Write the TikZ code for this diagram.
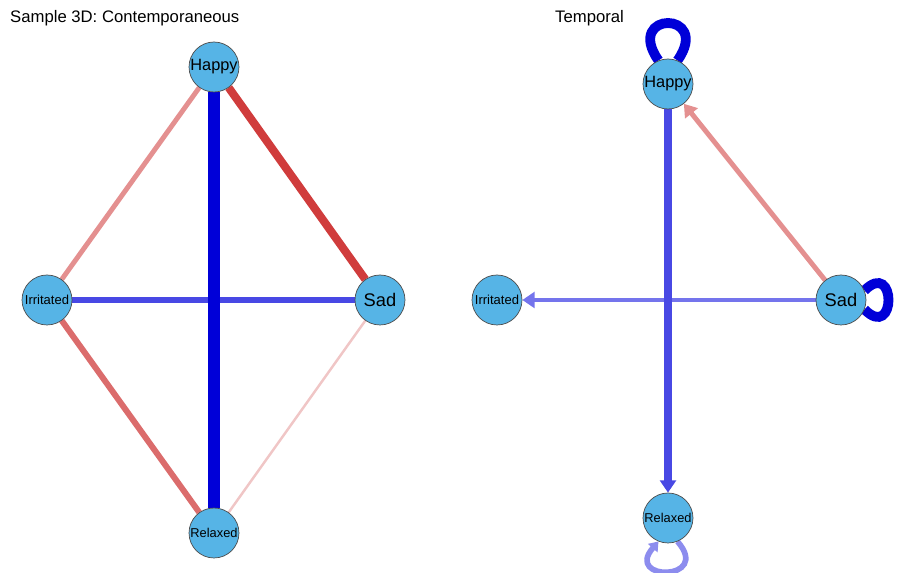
\documentclass[tikz,border=0pt]{standalone}
\usepackage{fontspec}
\setmainfont{Liberation Sans}
\usetikzlibrary{arrows.meta,backgrounds}
\definecolor{nodefill}{HTML}{56B4E6}
\definecolor{strongblue}{HTML}{0000D8}
\definecolor{midblue}{HTML}{4848E4}
\definecolor{lightblue}{HTML}{7474EC}
\definecolor{paleblue}{HTML}{8C8CEE}
\definecolor{strongred}{HTML}{D03C3C}
\definecolor{midred}{HTML}{DB6C6C}
\definecolor{lightred}{HTML}{E49090}
\definecolor{palered}{HTML}{F0C6C6}
\tikzset{
    emo/.style={circle,draw=black!70,fill=nodefill,minimum size=1cm,inner sep=0pt,line width=0.4pt},
    edgeline/.style={line cap=butt},
    arr/.style={-{Triangle[length=7pt,width=9pt]}},
    panel/.style={anchor=west,font=\fontsize{9.5pt}{11pt}\selectfont}
}
\begin{document}
\begin{tikzpicture}[x=0.02cm,y=-0.02cm]
        % Draw background
        \useasboundingbox (0,0) rectangle (897,573);
        % Draw titles
        \node[panel] (titleC) at (4,18) {Sample 3D: Contemporaneous};
        \node[panel] (titleT) at (549,18) {Temporal};
        % Draw contemporaneous nodes
        \node[emo,font=\fontsize{9.3pt}{10pt}\selectfont] (happyC) at (214,67) {Happy};
        \node[emo,font=\fontsize{7.4pt}{8pt}\selectfont] (irritC) at (47,300) {Irritated};
        \node[emo,font=\fontsize{10.4pt}{11pt}\selectfont] (sadC) at (380,300) {Sad};
        \node[emo,font=\fontsize{7.3pt}{8pt}\selectfont] (relaxC) at (214,533) {Relaxed};
        % Draw contemporaneous edges
        \begin{scope}[on background layer]
        \draw[edgeline,palered,line width=1.4pt] (sadC) -- (relaxC);
        \draw[edgeline,lightred,line width=2.8pt] (happyC) -- (irritC);
        \draw[edgeline,midred,line width=3.4pt] (irritC) -- (relaxC);
        \draw[edgeline,strongred,line width=4.6pt] (happyC) -- (sadC);
        \draw[edgeline,midblue,line width=3.4pt] (irritC) -- (sadC);
        \draw[edgeline,strongblue,line width=6.8pt] (happyC) -- (relaxC);
        \end{scope}
        % Draw temporal nodes
        \node[emo,font=\fontsize{9.3pt}{10pt}\selectfont] (happyT) at (668,84) {Happy};
        \node[emo,font=\fontsize{7.4pt}{8pt}\selectfont] (irritT) at (497,300) {Irritated};
        \node[emo,font=\fontsize{10.4pt}{11pt}\selectfont] (sadT) at (841,300) {Sad};
        \node[emo,font=\fontsize{7.3pt}{8pt}\selectfont] (relaxT) at (668,518) {Relaxed};
        % Draw temporal edges
        \begin{scope}[on background layer]
        \draw[edgeline,arr,lightblue,line width=2.8pt] (sadT) -- (irritT);
        \draw[edgeline,arr,lightred,line width=2.8pt] (sadT) -- (happyT);
        \draw[edgeline,arr,midblue,line width=4.4pt] (happyT) -- (relaxT);
        % Draw self loops
        \draw[strongblue,line width=5.6pt] (happyT.112) .. controls +(-35,-50) and +(35,-50) .. (happyT.68);
        \draw[strongblue,line width=5.6pt] (sadT.22) .. controls +(32,-32) and +(32,32) .. (sadT.-22);
        \draw[paleblue,line width=3.2pt,-{Triangle[length=5pt,width=7pt]}] (relaxT.-68) .. controls +(35,40) and +(-35,40) .. (relaxT.-112);
        \end{scope}
    \end{tikzpicture}
\end{document}
